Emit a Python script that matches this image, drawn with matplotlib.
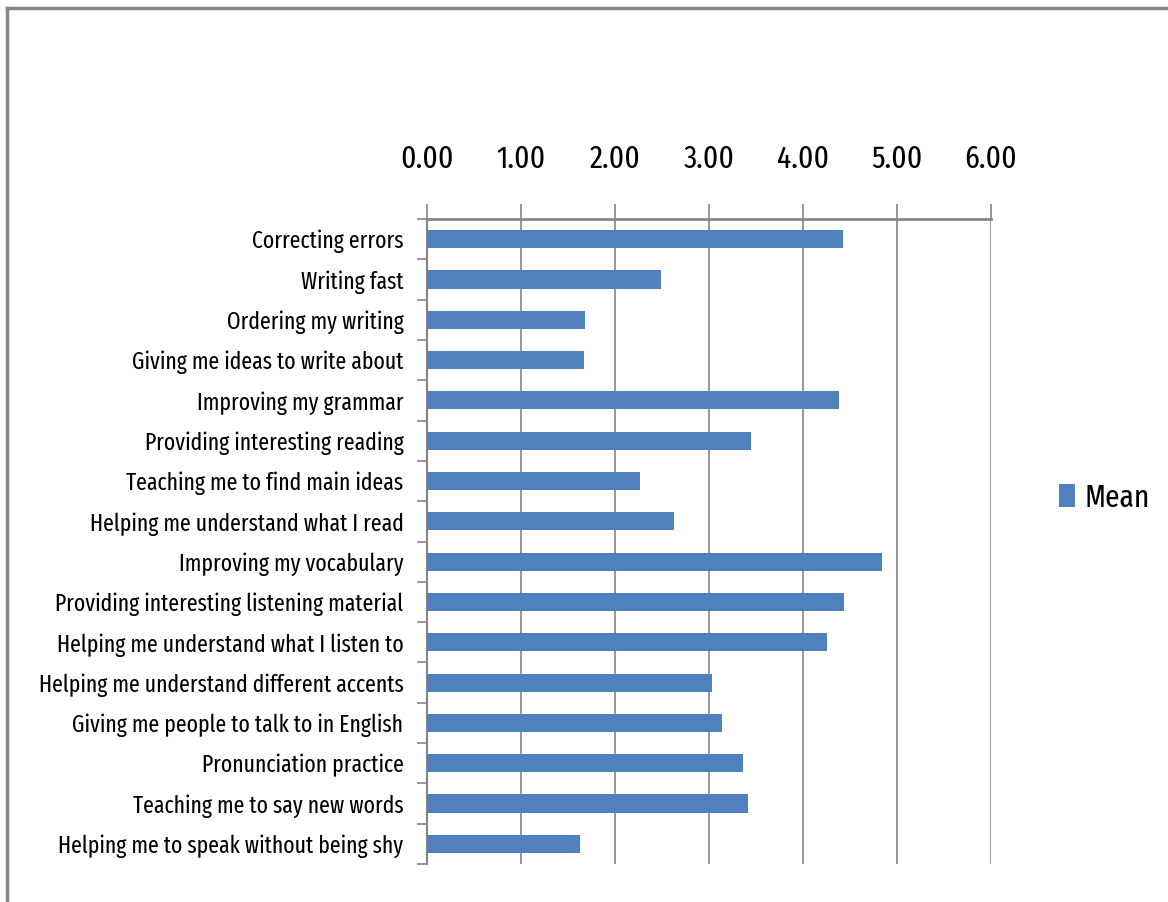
import matplotlib
matplotlib.use("Agg")
import matplotlib.pyplot as plt
from matplotlib.lines import Line2D
from matplotlib.patches import Patch

categories = [
    "Correcting errors",
    "Writing fast",
    "Ordering my writing",
    "Giving me ideas to write about",
    "Improving my grammar",
    "Providing interesting reading",
    "Teaching me to find main ideas",
    "Helping me understand what I read",
    "Improving my vocabulary",
    "Providing interesting listening material",
    "Helping me understand what I listen to",
    "Helping me understand different accents",
    "Giving me people to talk to in English",
    "Pronunciation practice",
    "Teaching me to say new words",
    "Helping me to speak without being shy",
]
means = [4.43, 2.49, 1.68, 1.67, 4.38, 3.45, 2.27, 2.63, 4.84, 4.44, 4.26,
         3.03, 3.14, 3.36, 3.41, 1.63]
xticks = [0, 1, 2, 3, 4, 5, 6]
xticklabels = ["0.00", "1.00", "2.00", "3.00", "4.00", "5.00", "6.00"]
series_name = "Mean"

plt.rcParams['font.family'] = ["Fira Sans Extra Condensed", "DejaVu Sans"]

W, H = 1168, 902
fig = plt.figure(figsize=(W / 100, H / 100), dpi=100)
ax = fig.add_axes([427 / W, 1 - 864 / H, 564 / W, 645 / H])

bar_color = "#4F81BD"
grid_color = "#868686"
y = list(range(len(categories)))
ax.barh(y, means, height=0.45, color=bar_color, zorder=3)

ax.set_xlim(0, 6)
ax.set_ylim(len(categories) - 0.5, -0.5)

ax.xaxis.tick_top()
ax.set_xticks(xticks)
ax.set_xticklabels(xticklabels, fontsize=23)
ax.tick_params(axis='x', which='major', length=11, width=1.2, color=grid_color,
               pad=21, labelcolor="black")

ax.set_yticks(y)
ax.set_yticklabels(categories, fontsize=17)
ax.tick_params(axis='y', which='major', length=0, pad=17)
ax.set_yticks([i - 0.5 for i in range(len(categories) + 1)], minor=True)
ax.tick_params(axis='y', which='minor', length=7, width=1.2, color=grid_color)

for xv in xticks[1:]:
    ax.axvline(xv, color=grid_color, lw=1.2, zorder=1)

for s in ['right', 'bottom']:
    ax.spines[s].set_visible(False)
ax.spines['top'].set_color(grid_color)
ax.spines['top'].set_linewidth(2)
ax.spines['left'].set_color(grid_color)
ax.spines['left'].set_linewidth(1.5)

handles = [Patch(facecolor=bar_color, edgecolor='none')]
fig.legend(handles, [series_name], loc='center left',
           bbox_to_anchor=(1046 / W, 1 - 498 / H), frameon=False,
           fontsize=23, handlelength=0.5, handleheight=0.7, handletextpad=0.3,
           borderaxespad=0)

# outer chart border (top and left visible)
fig.add_artist(Line2D([7 / W, 1], [1 - 8 / H, 1 - 8 / H], transform=fig.transFigure,
                      color=grid_color, lw=2.5))
fig.add_artist(Line2D([7 / W, 7 / W], [0, 1 - 8 / H], transform=fig.transFigure,
                      color=grid_color, lw=2.5))

fig.savefig("out.png", dpi=100)
